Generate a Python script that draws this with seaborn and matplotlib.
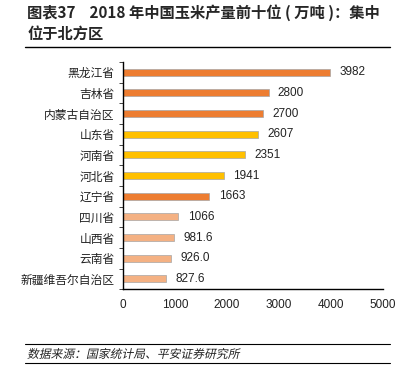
import matplotlib
matplotlib.use('Agg')
import matplotlib.pyplot as plt
import seaborn as sns
import pandas as pd
from matplotlib.lines import Line2D
from matplotlib.ticker import FixedLocator, NullFormatter
from matplotlib.textpath import TextPath
from matplotlib.patches import PathPatch
from matplotlib.font_manager import FontProperties
from matplotlib.transforms import Affine2D

# Data
provinces = ['黑龙江省', '吉林省', '内蒙古自治区', '山东省', '河南省', '河北省',
             '辽宁省', '四川省', '山西省', '云南省', '新疆维吾尔自治区']
output = [3982, 2800, 2700, 2607, 2351, 1941, 1663, 1066, 981.6, 926.0, 827.6]
labels = ['3982', '2800', '2700', '2607', '2351', '1941', '1663', '1066', '981.6', '926.0', '827.6']
groups = ['a', 'a', 'a', 'b', 'b', 'b', 'a', 'c', 'c', 'c', 'c']
colors = {'a': '#ED7D31', 'b': '#FFC000', 'c': '#F4B183'}

df = pd.DataFrame({'province': provinces, 'output': output, 'group': groups})

sns.set_style('white')
plt.rcParams['font.family'] = ['Noto Sans CJK SC', 'DejaVu Sans']
num_font = ['Liberation Sans', 'DejaVu Sans']

fig = plt.figure(figsize=(3.98, 3.82), dpi=100)
ax = fig.add_axes([0.309, 0.243, 0.653, 0.595])

sns.barplot(data=df, x='output', y='province', hue='group', palette=colors,
            dodge=False, width=0.33, legend=False, ax=ax, saturation=1,
            edgecolor='#A6A6A6', linewidth=0.5)

# value labels
for i, (v, t) in enumerate(zip(output, labels)):
    ax.text(v + 180, i, t, va='center', ha='left', fontsize=8.5, color='#222222',
            family=num_font)

ax.set_xlim(0, 5000)
ax.set_ylim(len(provinces) - 0.5, -0.5)
ax.set_xticks([0, 1000, 2000, 3000, 4000, 5000])
ax.set_xlabel('')
ax.set_ylabel('')
ax.tick_params(axis='x', labelsize=8.5, length=4, direction='out', colors='black', pad=3)
ax.tick_params(axis='y', which='major', labelsize=8.5, length=0, pad=6)
# small ticks between categories
ax.yaxis.set_minor_locator(FixedLocator([i - 0.5 for i in range(len(provinces) + 1)]))
ax.yaxis.set_minor_formatter(NullFormatter())
ax.tick_params(axis='y', which='minor', length=3, direction='out', left=True)
for lab in ax.get_yticklabels():
    lab.set_color('#222222')
for lab in ax.get_xticklabels():
    lab.set_color('#222222')
    lab.set_family(num_font)

for s in ['top', 'right']:
    ax.spines[s].set_visible(False)
for s in ['left', 'bottom']:
    ax.spines[s].set_color('black')
    ax.spines[s].set_linewidth(1.0)

# Title
fig.text(0.068, 0.966, '图表37    2018 年中国玉米产量前十位 ( 万吨 )：集中', fontsize=11,
         fontweight='bold', va='center', ha='left')
fig.text(0.068, 0.912, '位于北方区', fontsize=11, fontweight='bold', va='center', ha='left')
fig.add_artist(Line2D([0.063, 0.98], [0.877, 0.877], color='black', lw=1.0))

# Source line, slanted by hand since the CJK font has no italic
fig.add_artist(Line2D([0.063, 0.98], [0.099, 0.099], color='black', lw=0.8))
fp = FontProperties(family='Noto Sans CJK SC', size=8.5)
tp = TextPath((0, 0), '数据来源：国家统计局、平安证券研究所', prop=fp)
tr = Affine2D().skew_deg(12, 0).scale(100 / 72.0).translate(27, 382 - 358)
src = PathPatch(tr.transform_path(tp), facecolor='#222222', lw=0)
src.set_transform(Affine2D())  # pixel coordinates
fig.add_artist(src)
fig.add_artist(Line2D([0.063, 0.98], [0.049, 0.049], color='black', lw=0.8))

fig.savefig('out.png', dpi=100)
